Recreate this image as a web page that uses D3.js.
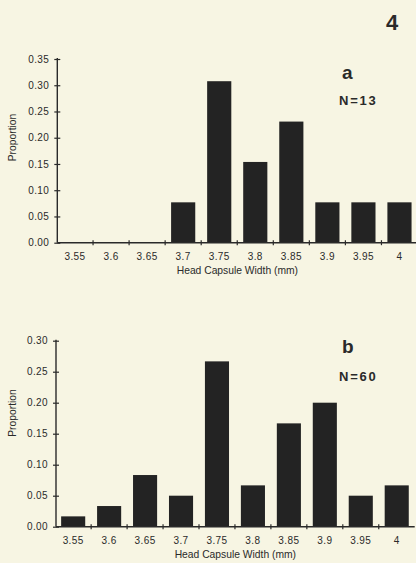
<!DOCTYPE html>
<html>
<head>
<meta charset="utf-8">
<script src="https://cdn.jsdelivr.net/npm/d3@7/dist/d3.min.js"></script>
<style>
  html, body { margin: 0; padding: 0; background: #f7f5e3; }
  svg { display: block; }
  text { font-family: "Liberation Sans", Arial, Helvetica, sans-serif; fill: #2a2a2a; }
</style>
</head>
<body>
<svg id="chart" width="416" height="563"></svg>
<script>
// ---- data ----
const categories = ["3.55", "3.6", "3.65", "3.7", "3.75", "3.8", "3.85", "3.9", "3.95", "4"];
const valuesA = [0, 0, 0, 1/13, 4/13, 2/13, 3/13, 1/13, 1/13, 1/13];   // N=13
const valuesB = [1/60, 2/60, 5/60, 3/60, 16/60, 4/60, 10/60, 12/60, 3/60, 4/60]; // N=60
const yTicksA = [0, 0.05, 0.10, 0.15, 0.20, 0.25, 0.30, 0.35];
const yTicksB = [0, 0.05, 0.10, 0.15, 0.20, 0.25, 0.30];
const panelLabels = ["a", "b"];
const nLabels = ["N=13", "N=60"];
const xTitle = "Head Capsule Width (mm)";
const yTitle = "Proportion";
const figLabel = "4";

const svg = d3.select("#chart");
const ink = "#2a2a2a";
const barColor = "#232323";

svg.append("text").attr("x", 392).attr("y", 30).attr("text-anchor", "middle")
  .attr("font-size", 22).attr("font-weight", "bold").text(figLabel);

const panels = [
  { values: valuesA, ticks: yTicksA, ymax: 0.35, axisX: 57.3, x0: 57, step: 36.05, y0: 242.7, yTop: 59,
    label: panelLabels[0], n: nLabels[0], labelY: 79, nY: 105, yTitleY: 137.5 },
  { values: valuesB, ticks: yTicksB, ymax: 0.30, axisX: 56, x0: 55.2, step: 35.95, y0: 526.7, yTop: 340.7,
    label: panelLabels[1], n: nLabels[1], labelY: 353, nY: 381, yTitleY: 413 }
];

const pad = 0.33;

panels.forEach(p => {
  const g = svg.append("g");
  const x = d3.scaleBand().domain(categories)
    .range([p.x0, p.x0 + p.step * categories.length])
    .paddingInner(pad).paddingOuter(pad / 2);
  const y = d3.scaleLinear().domain([0, p.ymax]).range([p.y0, p.yTop]);

  // bars
  g.selectAll("rect.bar").data(categories.map((c, i) => ({ c, v: p.values[i] })).filter(d => d.v > 0))
    .enter().append("rect").attr("class", "bar")
    .attr("x", d => x(d.c)).attr("width", x.bandwidth())
    .attr("y", d => y(d.v)).attr("height", d => y(0) - y(d.v))
    .attr("fill", barColor);

  // y axis
  const yAxis = d3.axisLeft(y).tickValues(p.ticks).tickFormat(d3.format(".2f"))
    .tickSize(3).tickPadding(5);
  const ya = g.append("g").attr("transform", `translate(${p.axisX},0)`).call(yAxis);
  ya.select(".domain").remove();
  ya.selectAll(".tick line").attr("x1", 3).attr("x2", -3).attr("stroke", ink).attr("stroke-width", 1.2);
  ya.selectAll(".tick text").attr("font-size", 10).attr("letter-spacing", "0.4px")
    .attr("fill", ink).attr("font-family", "Liberation Sans, Arial, sans-serif");
  g.append("line").attr("x1", p.axisX).attr("x2", p.axisX)
    .attr("y1", y(p.ymax) - 1).attr("y2", y(0)).attr("stroke", ink).attr("stroke-width", 1.4);

  // x axis
  const xEnd = p.x0 + p.step * categories.length;
  g.append("line").attr("x1", p.axisX).attr("x2", xEnd)
    .attr("y1", y(0)).attr("y2", y(0)).attr("stroke", ink).attr("stroke-width", 1.4);
  const boundaries = categories.slice(1).map(c => x(c) - x.step() * pad / 2);
  g.selectAll("line.xt").data(boundaries).enter().append("line").attr("class", "xt")
    .attr("x1", d => d).attr("x2", d => d)
    .attr("y1", y(0) - 2.5).attr("y2", y(0) + 2.5)
    .attr("stroke", ink).attr("stroke-width", 1.2);
  g.selectAll("text.xl").data(categories).enter().append("text").attr("class", "xl")
    .attr("x", d => x(d) + x.bandwidth() / 2).attr("y", y(0) + 17)
    .attr("text-anchor", "middle").attr("font-size", 10).attr("letter-spacing", "0.4px").text(d => d);

  // titles
  g.append("text").attr("x", (p.axisX + xEnd) / 2).attr("y", y(0) + 31)
    .attr("text-anchor", "middle").attr("font-size", 10.3).text(xTitle);
  g.append("text").attr("transform", `translate(16,${p.yTitleY}) rotate(-90)`)
    .attr("text-anchor", "middle").attr("font-size", 10.3).text(yTitle);

  // panel label & N
  g.append("text").attr("x", 342).attr("y", p.labelY).attr("font-size", 19)
    .attr("font-weight", "bold").text(p.label);
  g.append("text").attr("x", 339).attr("y", p.nY).attr("font-size", 13)
    .attr("font-weight", "bold").attr("letter-spacing", "1.8px").text(p.n);
});
</script>
</body>
</html>
